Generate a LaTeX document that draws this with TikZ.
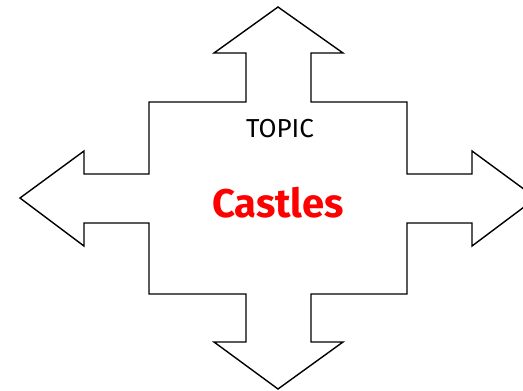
\documentclass[tikz,border=0pt]{standalone}
\usepackage{fontspec}
\setmainfont{Fira Sans}
\definecolor{castlered}{RGB}{255,0,0}
\begin{document}
\begin{tikzpicture}[x=1pt,y=-1pt]
  \useasboundingbox (0,0) rectangle (523,391);
  % outline of the four-way arrow
  \draw[black,line width=1.4pt,line join=miter]
    (278,7) -- (343,53) -- (311,53) -- (311,102) -- (407,102) -- (407,174)
    -- (472,174) -- (472,151) -- (536,198) -- (472,246) -- (472,223)
    -- (407,223) -- (407,294) -- (311,294) -- (311,342) -- (343,342)
    -- (278,389) -- (214,342) -- (246,342) -- (246,294) -- (149,294)
    -- (149,223) -- (84,223) -- (84,246) -- (20,198) -- (84,151)
    -- (84,174) -- (149,174) -- (149,102) -- (246,102) -- (246,53)
    -- (214,53) -- cycle;
  \node (topic) at (280,129) {\fontsize{26}{30}\selectfont TOPIC};
  \node[text=castlered] (castles) at (278,203) {\fontsize{40}{46}\selectfont\bfseries Castles};
\end{tikzpicture}
\end{document}
